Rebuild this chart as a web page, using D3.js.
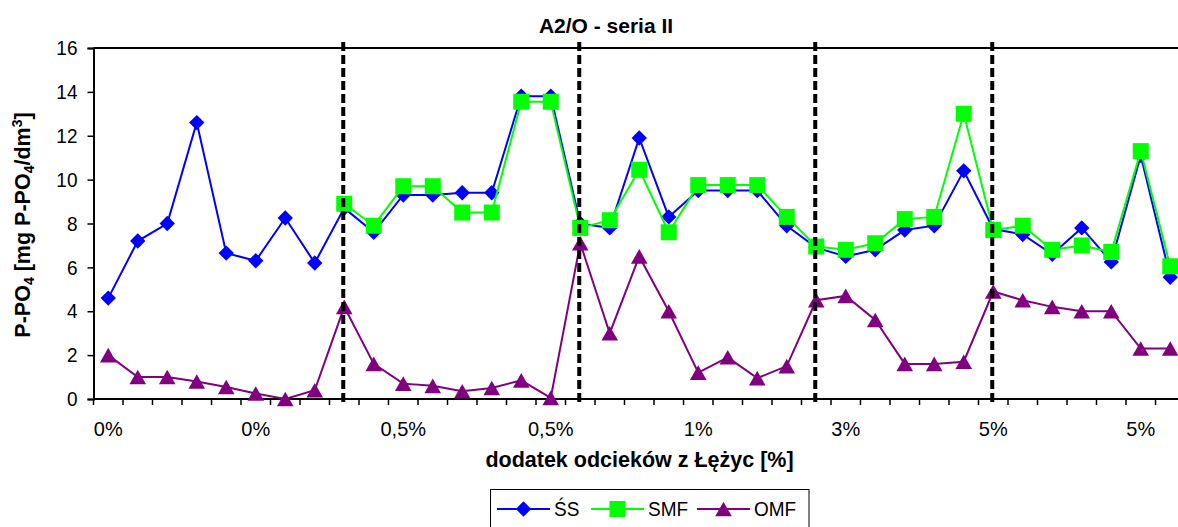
<!DOCTYPE html>
<html>
<head>
<meta charset="utf-8">
<script src="https://cdn.jsdelivr.net/npm/d3@7"></script>
<style>
  html, body { margin: 0; padding: 0; background: #fff; }
  svg { display: block; font-family: "Liberation Sans", Arial, sans-serif; }
</style>
</head>
<body>
<svg id="chart" width="1178" height="527"></svg>
<script>
// Dose of Łężyce leachate for each sample
const categories = [
  "0%", "0%", "0%", "0%", "0%", "0%", "0%", "0%",
  "0,5%", "0,5%", "0,5%", "0,5%", "0,5%", "0,5%", "0,5%", "0,5%",
  "1%", "1%", "1%", "1%", "1%", "1%", "1%", "1%",
  "3%", "3%", "3%", "3%", "3%", "3%",
  "5%", "5%", "5%", "5%", "5%", "5%", "5%"
];

// P-PO4 concentrations [mg P-PO4/dm3]
const seriesSS = [4.6, 7.2, 8.0, 12.6, 6.65, 6.3, 8.25, 6.2,
  8.7, 7.6, 9.3, 9.3, 9.4, 9.4, 13.8, 13.8,
  8.0, 7.8, 11.9, 8.3, 9.5, 9.5, 9.5, 7.9,
  6.9, 6.5, 6.8, 7.7, 7.9, 10.4,
  7.75, 7.5, 6.6, 7.8, 6.25, 11.1, 5.55];

const seriesSMF = [null, null, null, null, null, null, null, null,
  8.9, 7.9, 9.7, 9.7, 8.5, 8.5, 13.55, 13.55,
  7.8, 8.15, 10.45, 7.6, 9.75, 9.75, 9.75, 8.3,
  6.95, 6.8, 7.1, 8.2, 8.3, 13.0,
  7.7, 7.9, 6.8, 7.0, 6.7, 11.3, 6.05];

const seriesOMF = [2.0, 1.0, 1.0, 0.8, 0.55, 0.25, 0.0, 0.4,
  4.2, 1.6, 0.7, 0.6, 0.35, 0.5, 0.85, 0.05,
  7.1, 3.0, 6.5, 4.0, 1.2, 1.9, 0.95, 1.5,
  4.5, 4.7, 3.6, 1.6, 1.6, 1.7,
  4.9, 4.5, 4.2, 4.0, 4.0, 2.3, 2.3];

const yTicks = [0, 2, 4, 6, 8, 10, 12, 14, 16];
const labelEvery = 5;

const seriesList = [
  { name: "ŚS",  values: seriesSS,  color: "#0000FF", marker: "diamond" },
  { name: "SMF", values: seriesSMF, color: "#00FF00", marker: "square" },
  { name: "OMF", values: seriesOMF, color: "#800080", marker: "triangle" }
];

const svg = d3.select("#chart");
const plot = { left: 93.5, right: 1185, top: 48, bottom: 399 };
const idx = d3.range(categories.length);

const x = d3.scaleBand().domain(idx).range([plot.left, plot.right]);
const cx = i => x(i) + x.bandwidth() / 2;
const y = d3.scaleLinear().domain([0, 16]).range([plot.bottom, plot.top]);

function markerPath(type) {
  if (type === "diamond") return "M0,-7.7L7.7,0L0,7.7L-7.7,0Z";
  if (type === "square") return "M-8,-8H8V8H-8Z";
  return "M0,-7.3L8.3,7.3H-8.3Z";
}

// plot frame (top border; right edge lies past the canvas)
svg.append("path")
  .attr("d", `M${plot.left},${plot.top}H${plot.right}`)
  .attr("stroke", "#000").attr("stroke-width", 2).attr("fill", "none");

// y axis
const yAxis = svg.append("g").attr("transform", `translate(${plot.left},0)`)
  .call(d3.axisLeft(y).tickValues(yTicks).tickSize(6).tickPadding(10).tickFormat(d3.format("d")));
yAxis.select(".domain").attr("stroke", "#000").attr("stroke-width", 2);
yAxis.selectAll(".tick line").attr("stroke", "#000").attr("stroke-width", 1.5);
yAxis.selectAll(".tick text").attr("font-size", 19).attr("fill", "#000")
  .attr("font-family", "Liberation Sans, Arial, sans-serif")
  .attr("transform", "scale(1,1.1)");

// x axis: boundary ticks between categories, labels every 5th category
const xAxisG = svg.append("g").attr("transform", `translate(0,${plot.bottom})`);
xAxisG.append("path")
  .attr("d", `M${plot.left},0H${plot.right}`)
  .attr("stroke", "#000").attr("stroke-width", 2);
xAxisG.selectAll("line.bt")
  .data(d3.range(categories.length + 1))
  .join("line")
  .attr("class", "bt")
  .attr("x1", i => plot.left + i * x.step()).attr("x2", i => plot.left + i * x.step())
  .attr("y1", 0).attr("y2", 6)
  .attr("stroke", "#000").attr("stroke-width", 1.5);
xAxisG.selectAll("text.cat")
  .data(idx.filter(i => i % labelEvery === 0))
  .join("text")
  .attr("class", "cat")
  .attr("transform", i => `translate(${cx(i)},36.5) scale(1,1.05)`)
  .attr("text-anchor", "middle")
  .attr("font-size", 20)
  .text(i => categories[i]);

// series lines and markers
seriesList.forEach(s => {
  const pts = idx.filter(i => s.values[i] != null);
  const line = d3.line().defined(i => s.values[i] != null)
    .x(i => cx(i)).y(i => y(s.values[i]));
  svg.append("path")
    .attr("d", line(idx))
    .attr("fill", "none").attr("stroke", s.color).attr("stroke-width", 2);
  svg.append("g").selectAll("path")
    .data(pts)
    .join("path")
    .attr("transform", i => `translate(${cx(i)},${y(s.values[i])})`)
    .attr("d", markerPath(s.marker))
    .attr("fill", s.color);
});

// dashed separators where the leachate dose changes
const boundaries = idx.filter(i => i > 0 && categories[i] !== categories[i - 1]);
svg.append("g").selectAll("line")
  .data(boundaries)
  .join("line")
  .attr("x1", i => cx(i) - 1).attr("x2", i => cx(i) - 1)
  .attr("y1", plot.top - 6).attr("y2", plot.bottom + 5)
  .attr("stroke", "#000").attr("stroke-width", 4)
  .attr("stroke-dasharray", "9,4");

// title
svg.append("text")
  .attr("x", 606).attr("y", 33)
  .attr("text-anchor", "middle")
  .attr("font-size", 21).attr("font-weight", "bold")
  .text("A2/O - seria II");

// x axis title
svg.append("text")
  .attr("x", 639.5).attr("y", 467)
  .attr("text-anchor", "middle")
  .attr("font-size", 21.5).attr("font-weight", "bold")
  .text("dodatek odcieków z Łężyc [%]");

// y axis title with sub/superscripts
const yt = svg.append("text")
  .attr("transform", "translate(29.5,225) rotate(-90)")
  .attr("text-anchor", "middle")
  .attr("font-size", 21.5).attr("font-weight", "bold");
yt.append("tspan").text("P-PO");
yt.append("tspan").attr("font-size", 14).attr("dy", 4).text("4");
yt.append("tspan").attr("dy", -4).text(" [mg P-PO");
yt.append("tspan").attr("font-size", 14).attr("dy", 4).text("4");
yt.append("tspan").attr("dy", -4).text("/dm");
yt.append("tspan").attr("font-size", 14).attr("dy", -8).text("3");
yt.append("tspan").attr("dy", 8).text("]");

// legend
const lg = svg.append("g");
lg.append("rect")
  .attr("x", 490.5).attr("y", 489.5).attr("width", 318.5).attr("height", 60)
  .attr("fill", "#fff").attr("stroke", "#000").attr("stroke-width", 1);
const legendX = [497, 591, 697];
seriesList.forEach((s, k) => {
  const x0 = legendX[k];
  const item = lg.append("g");
  item.append("line")
    .attr("x1", x0).attr("x2", x0 + 53).attr("y1", 509).attr("y2", 509)
    .attr("stroke", s.color).attr("stroke-width", 2);
  item.append("path")
    .attr("transform", `translate(${x0 + 26.5},509)`)
    .attr("d", markerPath(s.marker))
    .attr("fill", s.color);
  item.append("text")
    .attr("transform", `translate(${x0 + 57},516) scale(1,1.1)`)
    .attr("font-size", 19)
    .text(s.name);
});
</script>
</body>
</html>
